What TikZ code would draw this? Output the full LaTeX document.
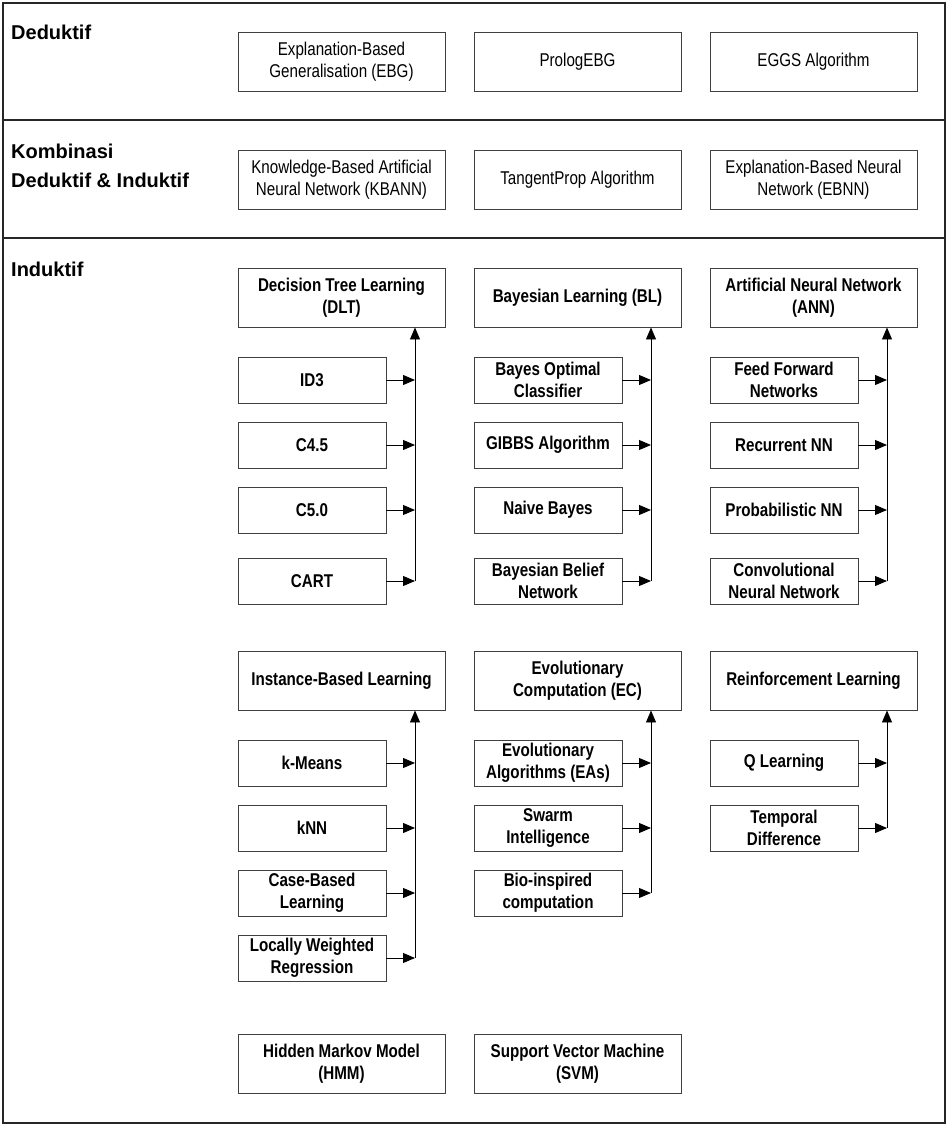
\documentclass[tikz,border=0pt]{standalone}
\usepackage{fontspec}
\setmainfont{Liberation Sans}
\newfontfamily\narrowfont{Liberation Sans}[FakeStretch=0.82]
\usetikzlibrary{arrows.meta}

\tikzset{
  frame/.style={draw=black!85, line width=1.3pt},
  heading/.style={anchor=base west, inner sep=0pt,
    font=\fontsize{20}{28.5}\selectfont\bfseries, align=left},
  box/.style={draw=black!75, line width=0.9pt, fill=white, align=center,
    inner sep=0pt, font=\narrowfont\fontsize{18.5}{22}\selectfont},
  widebox/.style={box, minimum width=207pt, minimum height=59pt},
  plainbox/.style={widebox},
  groupbox/.style={widebox, font=\narrowfont\bfseries\fontsize{18.5}{22}\selectfont},
  subbox/.style={box, minimum width=148pt, minimum height=46pt,
    font=\narrowfont\bfseries\fontsize{18.5}{22}\selectfont},
  link/.style={draw=black, line width=0.9pt},
  arr/.style={link, -{Triangle[length=12pt,width=10pt]}},
}

\begin{document}
\begin{tikzpicture}[x=1pt,y=-1pt]
\useasboundingbox (0,0) rectangle (950,1127);

% outer frame and section separators
\draw[frame] (3,3) rectangle (945,1123);
\draw[frame] (3,120) -- (945,120);
\draw[frame] (3,238) -- (945,238);

% section headings (base anchor sits on the last line)
\node[heading] (hded) at (11,39) {Deduktif};
\node[heading] (hkom) at (11,187) {Kombinasi\\Deduktif \& Induktif};
\node[heading] (hind) at (11,276) {Induktif};

% deductive methods
\node[plainbox] (ebg) at (341.5,61.5) {Explanation-Based\\Generalisation (EBG)};
\node[plainbox] (pebg) at (577.5,61.5) {PrologEBG};
\node[plainbox] (eggs) at (813.5,61.5) {EGGS Algorithm};

% combined methods
\node[plainbox] (kbann) at (341.5,179.5) {Knowledge-Based Artificial\\Neural Network (KBANN)};
\node[plainbox] (tprop) at (577.5,179.5) {TangentProp Algorithm};
\node[plainbox] (ebnn) at (813.5,179.5) {Explanation-Based Neural\\Network (EBNN)};

% inductive groups, first row
\node[groupbox] (dlt) at (341.5,297.5) {Decision Tree Learning\\(DLT)};
\node[groupbox] (bl) at (577.5,297.5) {Bayesian Learning (BL)};
\node[groupbox] (ann) at (813.5,297.5) {Artificial Neural Network\\(ANN)};

\node[subbox] (id3) at (312,380) {ID3};
\node[subbox] (c45) at (312,445) {C4.5};
\node[subbox] (c50) at (312,510) {C5.0};
\node[subbox] (cart) at (312,581) {CART};

\node[subbox] (boc) at (548,380) {Bayes Optimal\\Classifier};
\node[subbox] (gibbs) at (548,445) {GIBBS Algorithm};
\node[subbox] (nb) at (548,510) {Naive Bayes};
\node[subbox] (bbn) at (548,581) {Bayesian Belief\\Network};

\node[subbox] (ffn) at (784,380) {Feed Forward\\Networks};
\node[subbox] (rnn) at (784,445) {Recurrent NN};
\node[subbox] (pnn) at (784,510) {Probabilistic NN};
\node[subbox] (cnn) at (784,581) {Convolutional\\Neural Network};

% inductive groups, second row
\node[groupbox] (ibl) at (341.5,680.5) {Instance-Based Learning};
\node[groupbox] (ec) at (577.5,680.5) {Evolutionary\\Computation (EC)};
\node[groupbox] (rl) at (813.5,680.5) {Reinforcement Learning};

\node[subbox] (kmeans) at (312,763) {k-Means};
\node[subbox] (knn) at (312,828) {kNN};
\node[subbox] (cbl) at (312,893) {Case-Based\\Learning};
\node[subbox] (lwr) at (312,958) {Locally Weighted\\Regression};

\node[subbox] (eas) at (548,763) {Evolutionary\\Algorithms (EAs)};
\node[subbox] (swarm) at (548,828) {Swarm\\Intelligence};
\node[subbox] (bio) at (548,893) {Bio-inspired\\computation};

\node[subbox] (ql) at (784,763) {Q Learning};
\node[subbox] (td) at (784,828) {Temporal\\Difference};

% stand-alone inductive methods
\node[groupbox] (hmm) at (341.5,1064) {Hidden Markov Model\\(HMM)};
\node[groupbox] (svm) at (577.5,1064) {Support Vector Machine\\(SVM)};

% collector lines: members feed a vertical bus that points to the group
\foreach \grp/\last/\bx/\members in {
    dlt/cart/415/{id3,c45,c50,cart},
    bl/bbn/651/{boc,gibbs,nb,bbn},
    ann/cnn/887/{ffn,rnn,pnn,cnn},
    ibl/lwr/415/{kmeans,knn,cbl,lwr},
    ec/bio/651/{eas,swarm,bio},
    rl/td/887/{ql,td}} {
  \draw[arr] (\last.east -| \bx,0) -- (\grp.south -| \bx,0);
  \foreach \m in \members {
    \draw[arr] (\m.east) -- (\m.east -| \bx,0);
  }
}
\end{tikzpicture}
\end{document}
